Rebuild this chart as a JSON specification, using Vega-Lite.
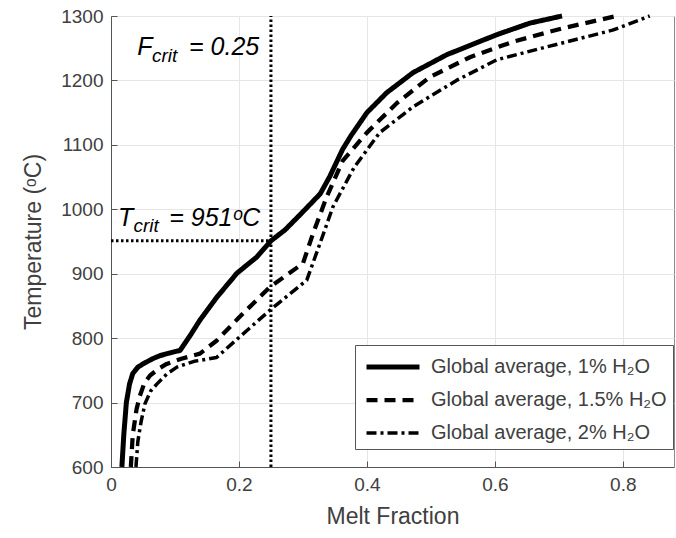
{
  "$schema": "https://vega.github.io/schema/vega-lite/v6.json",
  "width": 563,
  "height": 451,
  "autosize": "none",
  "padding": {"left": 111, "top": 16, "right": 2, "bottom": 71},
  "background": "white",
  "config": {
    "font": "Liberation Sans",
    "view": {"stroke": "#8a8a8a", "strokeWidth": 1},
    "axis": {
      "labelFont": "Liberation Sans",
      "titleFont": "Liberation Sans",
      "labelFontSize": 19,
      "titleFontSize": 23,
      "labelColor": "#404040",
      "titleColor": "#404040",
      "titleFontWeight": "normal",
      "domainColor": "#555555",
      "tickColor": "#555555",
      "grid": true,
      "gridColor": "#e6e6e6",
      "tickSize": -6,
      "labelPadding": 14,
      "labelFlush": false,
      "labelOverlap": false
    }
  },
  "datasets": {
    "curves": [
      {"series": "Global average, 1% H₂O", "f": 0.017, "t": 600},
      {"series": "Global average, 1% H₂O", "f": 0.020, "t": 650},
      {"series": "Global average, 1% H₂O", "f": 0.024, "t": 700},
      {"series": "Global average, 1% H₂O", "f": 0.029, "t": 729},
      {"series": "Global average, 1% H₂O", "f": 0.034, "t": 745},
      {"series": "Global average, 1% H₂O", "f": 0.042, "t": 755},
      {"series": "Global average, 1% H₂O", "f": 0.050, "t": 760},
      {"series": "Global average, 1% H₂O", "f": 0.065, "t": 768},
      {"series": "Global average, 1% H₂O", "f": 0.077, "t": 773},
      {"series": "Global average, 1% H₂O", "f": 0.092, "t": 777},
      {"series": "Global average, 1% H₂O", "f": 0.108, "t": 781},
      {"series": "Global average, 1% H₂O", "f": 0.125, "t": 806},
      {"series": "Global average, 1% H₂O", "f": 0.139, "t": 828},
      {"series": "Global average, 1% H₂O", "f": 0.165, "t": 863},
      {"series": "Global average, 1% H₂O", "f": 0.197, "t": 901},
      {"series": "Global average, 1% H₂O", "f": 0.228, "t": 926},
      {"series": "Global average, 1% H₂O", "f": 0.250, "t": 951},
      {"series": "Global average, 1% H₂O", "f": 0.272, "t": 968},
      {"series": "Global average, 1% H₂O", "f": 0.295, "t": 991},
      {"series": "Global average, 1% H₂O", "f": 0.327, "t": 1024},
      {"series": "Global average, 1% H₂O", "f": 0.342, "t": 1051},
      {"series": "Global average, 1% H₂O", "f": 0.362, "t": 1093},
      {"series": "Global average, 1% H₂O", "f": 0.375, "t": 1114},
      {"series": "Global average, 1% H₂O", "f": 0.400, "t": 1150},
      {"series": "Global average, 1% H₂O", "f": 0.431, "t": 1181},
      {"series": "Global average, 1% H₂O", "f": 0.472, "t": 1212},
      {"series": "Global average, 1% H₂O", "f": 0.525, "t": 1240},
      {"series": "Global average, 1% H₂O", "f": 0.603, "t": 1271},
      {"series": "Global average, 1% H₂O", "f": 0.655, "t": 1289},
      {"series": "Global average, 1% H₂O", "f": 0.705, "t": 1300},
      {"series": "Global average, 1.5% H₂O", "f": 0.031, "t": 600},
      {"series": "Global average, 1.5% H₂O", "f": 0.034, "t": 650},
      {"series": "Global average, 1.5% H₂O", "f": 0.040, "t": 690},
      {"series": "Global average, 1.5% H₂O", "f": 0.045, "t": 710},
      {"series": "Global average, 1.5% H₂O", "f": 0.052, "t": 730},
      {"series": "Global average, 1.5% H₂O", "f": 0.061, "t": 742},
      {"series": "Global average, 1.5% H₂O", "f": 0.075, "t": 753},
      {"series": "Global average, 1.5% H₂O", "f": 0.087, "t": 760},
      {"series": "Global average, 1.5% H₂O", "f": 0.110, "t": 768},
      {"series": "Global average, 1.5% H₂O", "f": 0.139, "t": 776},
      {"series": "Global average, 1.5% H₂O", "f": 0.165, "t": 796},
      {"series": "Global average, 1.5% H₂O", "f": 0.200, "t": 832},
      {"series": "Global average, 1.5% H₂O", "f": 0.248, "t": 879},
      {"series": "Global average, 1.5% H₂O", "f": 0.300, "t": 916},
      {"series": "Global average, 1.5% H₂O", "f": 0.316, "t": 963},
      {"series": "Global average, 1.5% H₂O", "f": 0.337, "t": 1019},
      {"series": "Global average, 1.5% H₂O", "f": 0.362, "t": 1075},
      {"series": "Global average, 1.5% H₂O", "f": 0.400, "t": 1119},
      {"series": "Global average, 1.5% H₂O", "f": 0.447, "t": 1165},
      {"series": "Global average, 1.5% H₂O", "f": 0.498, "t": 1205},
      {"series": "Global average, 1.5% H₂O", "f": 0.561, "t": 1236},
      {"series": "Global average, 1.5% H₂O", "f": 0.628, "t": 1260},
      {"series": "Global average, 1.5% H₂O", "f": 0.706, "t": 1281},
      {"series": "Global average, 1.5% H₂O", "f": 0.790, "t": 1300},
      {"series": "Global average, 2% H₂O", "f": 0.039, "t": 600},
      {"series": "Global average, 2% H₂O", "f": 0.042, "t": 640},
      {"series": "Global average, 2% H₂O", "f": 0.047, "t": 670},
      {"series": "Global average, 2% H₂O", "f": 0.053, "t": 698},
      {"series": "Global average, 2% H₂O", "f": 0.062, "t": 718},
      {"series": "Global average, 2% H₂O", "f": 0.072, "t": 729},
      {"series": "Global average, 2% H₂O", "f": 0.087, "t": 744},
      {"series": "Global average, 2% H₂O", "f": 0.103, "t": 755},
      {"series": "Global average, 2% H₂O", "f": 0.130, "t": 764},
      {"series": "Global average, 2% H₂O", "f": 0.165, "t": 770},
      {"series": "Global average, 2% H₂O", "f": 0.200, "t": 801},
      {"series": "Global average, 2% H₂O", "f": 0.248, "t": 843},
      {"series": "Global average, 2% H₂O", "f": 0.306, "t": 890},
      {"series": "Global average, 2% H₂O", "f": 0.327, "t": 948},
      {"series": "Global average, 2% H₂O", "f": 0.347, "t": 1004},
      {"series": "Global average, 2% H₂O", "f": 0.380, "t": 1065},
      {"series": "Global average, 2% H₂O", "f": 0.420, "t": 1119},
      {"series": "Global average, 2% H₂O", "f": 0.472, "t": 1159},
      {"series": "Global average, 2% H₂O", "f": 0.540, "t": 1200},
      {"series": "Global average, 2% H₂O", "f": 0.603, "t": 1232},
      {"series": "Global average, 2% H₂O", "f": 0.681, "t": 1252},
      {"series": "Global average, 2% H₂O", "f": 0.784, "t": 1278},
      {"series": "Global average, 2% H₂O", "f": 0.842, "t": 1300}
    ],
    "one": [{}]
  },
  "layer": [
    {
      "data": {"name": "curves"},
      "mark": {"type": "line", "color": "black", "strokeCap": "butt", "strokeJoin": "round"},
      "encoding": {
        "x": {
          "field": "f", "type": "quantitative",
          "scale": {"domain": [0, 0.88], "nice": false, "zero": false},
          "axis": {"title": "Melt Fraction", "values": [0, 0.2, 0.4, 0.6, 0.8], "format": "~g", "titlePadding": 11}
        },
        "y": {
          "field": "t", "type": "quantitative",
          "scale": {"domain": [600, 1300], "nice": false, "zero": false},
          "axis": {"title": "Temperature (ᵒC)", "values": [600, 700, 800, 900, 1000, 1100, 1200, 1300], "format": "d", "titlePadding": 15}
        },
        "order": {"field": "t"},
        "strokeDash": {
          "field": "series", "type": "nominal",
          "scale": {
            "domain": ["Global average, 1% H₂O", "Global average, 1.5% H₂O", "Global average, 2% H₂O"],
            "range": [[1, 0], [11, 7], [10, 4, 3, 4]]
          },
          "legend": {
            "title": null, "orient": "none", "legendX": 244, "legendY": 329,
            "symbolType": "M-2,0H2", "symbolSize": 702, "symbolStrokeColor": "black", "symbolFillColor": "transparent",
            "symbolOffset": 16, "labelOffset": 22,
            "labelFontSize": 20, "labelColor": "#404040", "labelFont": "Liberation Sans", "labelLimit": 0,
            "rowPadding": 7.5,
            "strokeColor": "#555555", "fillColor": "white", "padding": 6
          }
        },
        "strokeWidth": {
          "field": "series", "type": "nominal",
          "scale": {
            "domain": ["Global average, 1% H₂O", "Global average, 1.5% H₂O", "Global average, 2% H₂O"],
            "range": [5, 3.5, 3.5]
          },
          "legend": {
            "title": null, "orient": "none", "legendX": 244, "legendY": 329,
            "symbolType": "M-2,0H2", "symbolSize": 702, "symbolStrokeColor": "black", "symbolFillColor": "transparent",
            "symbolOffset": 16, "labelOffset": 22,
            "labelFontSize": 20, "labelColor": "#404040", "labelFont": "Liberation Sans", "labelLimit": 0,
            "rowPadding": 7.5,
            "strokeColor": "#555555", "fillColor": "white", "padding": 6
          }
        }
      }
    },
    {
      "data": {"name": "one"},
      "mark": {"type": "rule", "color": "black", "strokeWidth": 3, "strokeDash": [2.5, 2.5]},
      "encoding": {
        "x": {"datum": 0.25, "type": "quantitative"},
        "y": {"datum": 600, "type": "quantitative"},
        "y2": {"datum": 1300}
      }
    },
    {
      "data": {"name": "one"},
      "mark": {"type": "rule", "color": "black", "strokeWidth": 3, "strokeDash": [2.5, 2.5]},
      "encoding": {
        "x": {"datum": 0, "type": "quantitative"},
        "x2": {"datum": 0.25},
        "y": {"datum": 951, "type": "quantitative"}
      }
    },
    {
      "data": {"name": "one"},
      "mark": {"type": "text", "font": "Liberation Sans", "fontStyle": "italic", "fontSize": 25, "align": "left", "baseline": "alphabetic", "color": "black"},
      "encoding": {"x": {"datum": 0.041, "type": "quantitative"}, "y": {"datum": 1240, "type": "quantitative"}, "text": {"value": "F"}}
    },
    {
      "data": {"name": "one"},
      "mark": {"type": "text", "font": "Liberation Sans", "fontStyle": "italic", "fontSize": 19, "align": "left", "baseline": "alphabetic", "color": "black"},
      "encoding": {"x": {"datum": 0.064, "type": "quantitative"}, "y": {"datum": 1229, "type": "quantitative"}, "text": {"value": "crit"}}
    },
    {
      "data": {"name": "one"},
      "mark": {"type": "text", "font": "Liberation Sans", "fontStyle": "italic", "fontSize": 25, "align": "left", "baseline": "alphabetic", "color": "black"},
      "encoding": {"x": {"datum": 0.122, "type": "quantitative"}, "y": {"datum": 1240, "type": "quantitative"}, "text": {"value": "= 0.25"}}
    },
    {
      "data": {"name": "one"},
      "mark": {"type": "text", "font": "Liberation Sans", "fontStyle": "italic", "fontSize": 25, "align": "left", "baseline": "alphabetic", "color": "black"},
      "encoding": {"x": {"datum": 0.011, "type": "quantitative"}, "y": {"datum": 974, "type": "quantitative"}, "text": {"value": "T"}}
    },
    {
      "data": {"name": "one"},
      "mark": {"type": "text", "font": "Liberation Sans", "fontStyle": "italic", "fontSize": 19, "align": "left", "baseline": "alphabetic", "color": "black"},
      "encoding": {"x": {"datum": 0.035, "type": "quantitative"}, "y": {"datum": 964, "type": "quantitative"}, "text": {"value": "crit"}}
    },
    {
      "data": {"name": "one"},
      "mark": {"type": "text", "font": "Liberation Sans", "fontStyle": "italic", "fontSize": 25, "align": "left", "baseline": "alphabetic", "color": "black"},
      "encoding": {"x": {"datum": 0.091, "type": "quantitative"}, "y": {"datum": 974, "type": "quantitative"}, "text": {"value": "= 951ᵒC"}}
    }
  ]
}
